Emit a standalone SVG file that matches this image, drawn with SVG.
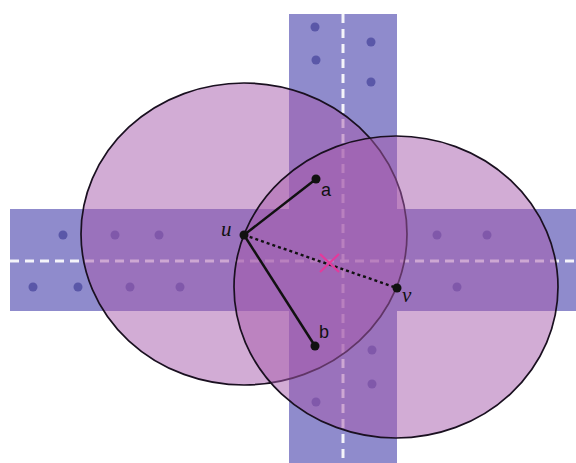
<svg xmlns="http://www.w3.org/2000/svg" width="576" height="463" viewBox="0 0 576 463">
<style>
.band{fill:#8f8bcc}
.dash{stroke:#ffffff;stroke-width:3;stroke-dasharray:9,6;fill:none;opacity:0.9}
.dot{fill:#5a57a8}
.disk{fill:#a65aac;fill-opacity:0.5;stroke:#1a1020;stroke-width:1.7}
.seg{stroke:#111;stroke-width:2.5;fill:none}
.pt{fill:#111}
.lbl{font-family:"Liberation Serif",serif;font-size:21px;fill:#111}
.lbls{font-family:"Liberation Sans",sans-serif;font-size:18px;fill:#111}
</style>
<rect width="576" height="463" fill="#ffffff"/>
<g id="bands">
<rect class="band" x="289" y="14" width="108" height="449"/>
<rect class="band" x="10" y="209" width="566" height="102"/>
<line class="dash" x1="10" y1="261" x2="576" y2="261"/>
<line class="dash" x1="343" y1="14" x2="343" y2="463"/>
</g>
<g id="dots">
<circle class="dot" cx="63" cy="235" r="4.5"/>
<circle class="dot" cx="115" cy="235" r="4.5"/>
<circle class="dot" cx="159" cy="235" r="4.5"/>
<circle class="dot" cx="33" cy="287" r="4.5"/>
<circle class="dot" cx="78" cy="287" r="4.5"/>
<circle class="dot" cx="130" cy="287" r="4.5"/>
<circle class="dot" cx="180" cy="287" r="4.5"/>
<circle class="dot" cx="437" cy="235" r="4.5"/>
<circle class="dot" cx="487" cy="235" r="4.5"/>
<circle class="dot" cx="457" cy="287" r="4.5"/>
<circle class="dot" cx="315" cy="27" r="4.5"/>
<circle class="dot" cx="316" cy="60" r="4.5"/>
<circle class="dot" cx="371" cy="42" r="4.5"/>
<circle class="dot" cx="371" cy="82" r="4.5"/>
<circle class="dot" cx="372" cy="350" r="4.5"/>
<circle class="dot" cx="372" cy="384" r="4.5"/>
<circle class="dot" cx="316" cy="402" r="4.5"/>
</g>
<g id="disk-u"><ellipse class="disk" cx="244" cy="234" rx="163" ry="151"/></g>
<g id="disk-v"><ellipse class="disk" cx="396" cy="287" rx="162" ry="151"/></g>
<g id="connectors">
<line class="seg" x1="244" y1="235" x2="316" y2="179"/>
<line class="seg" x1="244" y1="235" x2="315" y2="346"/>
<line x1="244" y1="235" x2="397" y2="288" stroke="#111" stroke-width="2.4" stroke-dasharray="3,3"/>
</g>
<g id="mark">
<path d="M320 254 L339 272 M339 254 L320 272" stroke="#e43a9c" stroke-width="2.2" fill="none"/>
</g>
<g id="node-u"><circle class="pt" cx="244" cy="235" r="4.5"/><text class="lbl" x="221" y="236" font-style="italic">u</text></g>
<g id="node-a"><circle class="pt" cx="316" cy="179" r="4.5"/><text class="lbls" x="321" y="196">a</text></g>
<g id="node-b"><circle class="pt" cx="315" cy="346" r="4.5"/><text class="lbls" x="319" y="338">b</text></g>
<g id="node-v"><circle class="pt" cx="397" cy="288" r="4.5"/><text class="lbl" x="402" y="302" font-style="italic">v</text></g>
</svg>
